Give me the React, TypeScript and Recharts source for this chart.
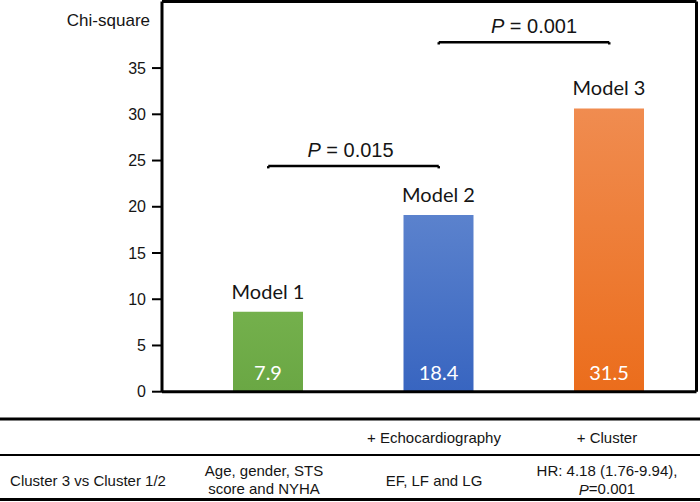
import React from 'react'
import { BarChart, Bar, XAxis, YAxis, Cell, LabelList, ReferenceLine } from 'recharts'

const models = ['Model 1', 'Model 2', 'Model 3']
const chiSquare = [8.65, 19.1, 30.64]
const valueLabels = ['7.9', '18.4', '31.5']
const yTicks = [0, 5, 10, 15, 20, 25, 30, 35]

const comparisons = [
  { from: 'Model 1', to: 'Model 2', level: 24.4, p: '0.015' },
  { from: 'Model 2', to: 'Model 3', level: 37.8, p: '0.001' },
]

const tableHeader = ['', '', '+ Echocardiography', '+ Cluster']
const tableRow = [
  ['Cluster 3 vs Cluster 1/2'],
  ['Age, gender, STS', 'score and NYHA'],
  ['EF, LF and LG'],
  ['HR: 4.18 (1.76-9.94),', 'P=0.001'],
]

const data = models.map((name, i) => ({ name, value: chiSquare[i], label: valueLabels[i] }))

const gradients = [
  ['#74b04c', '#6aa744'],
  ['#5b82cd', '#3865c0'],
  ['#f08c50', '#eb6d1c'],
]

const colX = [88, 264, 434, 607]
const textNudge = [-3, 10]
const SANS = '"Liberation Sans", Arial, sans-serif'
const INK = '#151515'

const ModelName = (props: any) => {
  const { x, y, width, value } = props
  return (
    <text x={x + width / 2} y={y - 21} textAnchor="middle" dominantBaseline="central"
      fontFamily="Lato, sans-serif" fontSize={20} fill={INK}>{value}</text>
  )
}

const ValueLabel = (props: any) => {
  const { x, y, width, height, value } = props
  return (
    <text x={x + width / 2} y={y + height - 20} textAnchor="middle" dominantBaseline="central"
      fontFamily="Lato, sans-serif" fontSize={20} fill="#ffffff">{value}</text>
  )
}

const pLabel = (p: string, nudge: number) => (props: any) => {
  const vb = props.viewBox || {}
  const cx = vb.x + (vb.width || 0) / 2 + nudge
  return (
    <text x={cx} y={vb.y - 16} textAnchor="middle" dominantBaseline="central"
      fontFamily={SANS} fontSize={20} fill={INK}>
      <tspan fontStyle="italic">P</tspan> = {p}
    </text>
  )
}

const cellLine = (s: string) =>
  s.startsWith('P=') ? (<><tspan fontStyle="italic">P</tspan>{s.slice(1)}</>) : s

const frame = { stroke: '#000', strokeWidth: 3 }

export default function App() {
  return (
    <div style={{ position: 'absolute', left: 0, top: 0, width: 700, height: 502, background: '#fff' }}>
      <BarChart width={700} height={400} data={data}
        margin={{ top: 0.5, right: 2.5, bottom: 7.3, left: 0 }}>
        <defs>
          {gradients.map((g, i) => (
            <linearGradient key={i} id={`barGrad${i}`} x1="0" y1="0" x2="0" y2="1">
              <stop offset="0%" stopColor={g[0]} />
              <stop offset="100%" stopColor={g[1]} />
            </linearGradient>
          ))}
        </defs>
        <XAxis dataKey="name" height={1} tick={false} tickLine={false}
          padding={{ left: 21, right: 2 }} axisLine={frame} />
        <XAxis xAxisId="top" dataKey="name" orientation="top" height={1} tick={false} tickLine={false}
          axisLine={frame} />
        <YAxis width={162} domain={[0, 42.2]} ticks={yTicks} interval={0}
          tickSize={10} tickMargin={6}
          tick={{ fill: INK, fontSize: 16, fontFamily: SANS }}
          tickLine={{ stroke: '#000', strokeWidth: 2 }}
          axisLine={frame} />
        <YAxis yAxisId="right" orientation="right" width={1} tick={false} tickLine={false}
          domain={[0, 42.2]} axisLine={frame} />
        <Bar dataKey="value" barSize={70} isAnimationActive={false}>
          {data.map((d, i) => (
            <Cell key={d.name} fill={`url(#barGrad${i})`} />
          ))}
          <LabelList dataKey="name" content={ModelName} />
          <LabelList dataKey="label" content={ValueLabel} />
        </Bar>
        {comparisons.map((c, i) => (
          <ReferenceLine key={c.p} segment={[{ x: c.from, y: c.level }, { x: c.to, y: c.level }]}
            stroke="#000" strokeWidth={2.5} label={pLabel(c.p, textNudge[i])} />
        ))}
        {/* tiny end ticks of the brackets */}
        {comparisons.flatMap((c) => [c.from, c.to].map((m) => (
          <ReferenceLine key={c.p + m} segment={[{ x: m, y: c.level }, { x: m, y: c.level - 0.25 }]}
            stroke="#000" strokeWidth={2.5} />
        )))}
      </BarChart>

      <svg width={700} height={502} style={{ position: 'absolute', left: 0, top: 0, pointerEvents: 'none' }}>
        <text x={150} y={20} textAnchor="end" dominantBaseline="central"
          fontFamily={SANS} fontSize={17} fill={INK}>Chi-square</text>

        <line x1={0} x2={700} y1={419} y2={419} stroke="#000" strokeWidth={3} />
        <line x1={0} x2={700} y1={455} y2={455} stroke="#000" strokeWidth={2} />
        <line x1={0} x2={700} y1={499.5} y2={499.5} stroke="#000" strokeWidth={3} />

        {tableHeader.map((h, i) => (
          <text key={'h' + i} x={colX[i]} y={437} textAnchor="middle" dominantBaseline="central"
            fontFamily={SANS} fontSize={15} fill={INK}>{h}</text>
        ))}
        {tableRow.map((lines, i) =>
          lines.map((s, j) => (
            <text key={`r${i}-${j}`} x={colX[i]}
              y={lines.length === 1 ? 480 : 470 + j * 18.5}
              textAnchor="middle" dominantBaseline="central"
              fontFamily={SANS} fontSize={15} fill={INK}>{cellLine(s)}</text>
          ))
        )}
      </svg>
    </div>
  )
}
